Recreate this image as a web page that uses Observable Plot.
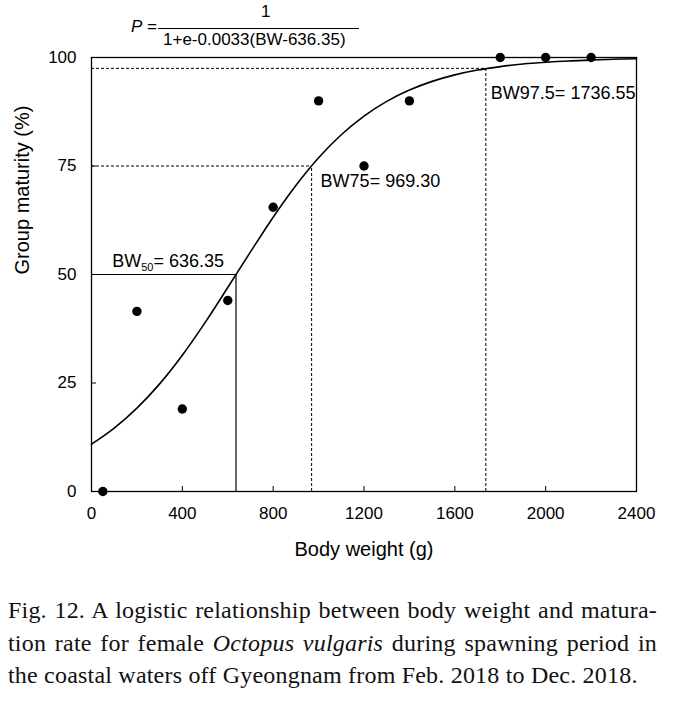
<!DOCTYPE html>
<html><head><meta charset="utf-8">
<script src="https://cdn.jsdelivr.net/npm/d3@7"></script>
<script src="https://cdn.jsdelivr.net/npm/@observablehq/plot@0.6"></script>
<style>
body{margin:0;background:#fff;}
#wrap{position:relative;width:675px;}
.formula{position:absolute;font-family:"Liberation Sans",Arial,sans-serif;font-size:17px;color:#000;white-space:nowrap;}
.caption{font-family:"Liberation Serif","Times New Roman",serif;font-size:24px;letter-spacing:0.2px;line-height:32.5px;margin:24px 18px 0 8px;color:#111;white-space:nowrap;}
.j{text-align:justify;text-align-last:justify;}
</style></head><body>
<div id="wrap">
  <div id="chart"></div>
  <div class="formula" style="left:131px;top:17px;"><i>P</i> =</div>
  <div class="formula" style="left:261px;top:2px;">1</div>
  <div style="position:absolute;left:158px;top:28px;width:201px;height:1px;background:#000"></div>
  <div class="formula" style="left:163px;top:30px;">1+e-0.0033(BW-636.35)</div>
  <div class="caption">
    <div class="j">Fig. 12. A logistic relationship between body weight and matura-</div>
    <div class="j">tion rate for female <i>Octopus vulgaris</i> during spawning period in</div>
    <div>the coastal waters off Gyeongnam from Feb. 2018 to Dec. 2018.</div>
  </div>
</div>
<script>
// Observed points
const bodyWeight = [50, 200, 400, 600, 800, 1000, 1200, 1400, 1800, 2000, 2200];
const maturity   = [0, 41.5, 19, 44, 65.5, 90, 75, 90, 100, 100, 100];

// Fitted logistic curve, every 100 g
const curveBW = [0,100,200,300,400,500,600,700,800,900,1000,1100,1200,1300,1400,1500,1600,1700,1800,1900,2000,2100,2200,2300,2400];
const curveP  = [10.9,14.6,19.2,24.8,31.4,38.9,47.0,55.2,63.2,70.5,76.9,82.2,86.5,89.9,92.5,94.5,96.0,97.1,97.9,98.5,98.9,99.2,99.4,99.6,99.7];

// Reference weights
const refBW = [636.35, 969.30, 1736.55];
const refP = [50, 75, 97.5];
const refLabel = ["BW50= 636.35", "BW75= 969.30", "BW97.5= 1736.55"];

const xTicks = [0, 400, 800, 1200, 1600, 2000, 2400];
const yTicks = [0, 25, 50, 75, 100];
const xTitle = "Body weight (g)";
const yTitle = "Group maturity (%)";

const points = bodyWeight.map((b, i) => ({bw: b, p: maturity[i]}));
const curve = curveBW.map((b, i) => ({bw: b, p: curveP[i]}));
const refs = refBW.map((b, i) => ({bw: b, p: refP[i], label: refLabel[i]}));
const solid = refs.slice(0, 1);
const dashed = refs.slice(1);

const plot = Plot.plot({
  width: 675,
  height: 570,
  marginLeft: 91,
  marginRight: 39,
  marginTop: 57,
  marginBottom: 79,
  x: {domain: [0, 2400]},
  y: {domain: [0, 100]},
  style: {fontFamily: '"Liberation Sans", Arial, sans-serif', fontSize: "17px", color: "#000", background: "white"},
  marks: [
    Plot.ruleY(solid, {y: "p", x1: 0, x2: "bw", stroke: "black", strokeWidth: 1.2}),
    Plot.ruleX(solid, {x: "bw", y1: 0, y2: "p", stroke: "black", strokeWidth: 1.2}),
    Plot.ruleY(dashed, {y: "p", x1: 0, x2: "bw", stroke: "black", strokeWidth: 1, strokeDasharray: "3,2"}),
    Plot.ruleX(dashed, {x: "bw", y1: 0, y2: "p", stroke: "black", strokeWidth: 1, strokeDasharray: "3,2"}),
    Plot.line(curve, {x: "bw", y: "p", curve: "monotone-x", stroke: "black", strokeWidth: 1.6}),
    Plot.dot(points, {x: "bw", y: "p", r: 4.7, fill: "black", stroke: "none"}),
    Plot.text([refs[0]], {x: "bw", y: "p", text: "label", textAnchor: "end", dx: -12, dy: -13, fontSize: 18, className: "bw50"}),
    Plot.text([refs[1]], {x: "bw", y: "p", text: "label", textAnchor: "start", dx: 9, dy: 15, fontSize: 18}),
    Plot.text([refs[2]], {x: "bw", y: "p", text: "label", textAnchor: "start", dx: 5, dy: 25, fontSize: 18}),
    Plot.frame({stroke: "black", strokeWidth: 1.3}),
    Plot.axisX(xTicks, {tickSize: -5, tickPadding: 20, fontSize: 17, label: null, tickFormat: d => String(d)}),
    Plot.axisY(yTicks, {tickSize: -5, tickPadding: 20, fontSize: 17, label: null, tickFormat: d => String(d)}),
    Plot.text([xTitle], {frameAnchor: "bottom", dy: 64, fontSize: 20}),
    Plot.text([yTitle], {frameAnchor: "left", dx: -69, rotate: -90, fontSize: 20})
  ]
});
document.getElementById("chart").appendChild(plot);

// Subscript for BW50 label
plot.querySelectorAll("g.bw50 text").forEach(t => {
  const ns = "http://www.w3.org/2000/svg";
  t.textContent = "";
  const a = document.createElementNS(ns, "tspan"); a.textContent = "BW";
  const b = document.createElementNS(ns, "tspan"); b.textContent = "50"; b.setAttribute("font-size", "11"); b.setAttribute("dy", "4");
  const c = document.createElementNS(ns, "tspan"); c.textContent = "= 636.35"; c.setAttribute("dy", "-4");
  t.append(a, b, c);
});
</script>
</body></html>
